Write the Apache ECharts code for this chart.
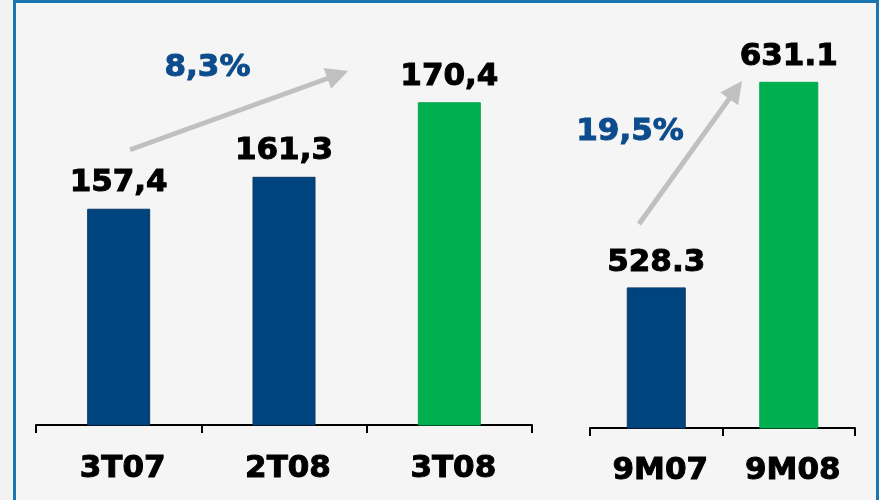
<!DOCTYPE html>
<html>
<head>
<meta charset="utf-8">
<script src="https://cdn.jsdelivr.net/npm/echarts@6/dist/echarts.min.js"></script>
<style>html,body{margin:0;padding:0;background:#f3f3f3;}#c{width:879px;height:500px;}</style>
</head>
<body>
<div id="c"></div>
<script>
// Quarterly group
var quarterCats = ['3T07', '2T08', '3T08'];
var quarterValues = [157.4, 161.3, 170.4];
var quarterLabels = ['157,4', '161,3', '170,4'];
// Nine-month group
var ytdCats = ['9M07', '9M08'];
var ytdValues = [528.3, 631.1];
var ytdLabels = ['528.3', '631.1'];
// Growth annotations
var quarterGrowth = '8,3%';
var ytdGrowth = '19,5%';
var quarterArrow = [[0.069, 164.6], [1.325, 173.76]];
var ytdArrow = [[-0.13, 560], [0.599, 627.05]];
var quarterGrowthPos = [0.537, 174.6];
var ytdGrowthPos = [-0.198, 606];

var NAVY = '#00447f', GREEN = '#00b050', GREY = '#c0c0c0', PCT = '#0d4c8c';
var FONT = 'DejaVu Sans';

function barData(vals) {
  return vals.map(function (v, i) {
    var last = i === vals.length - 1;
    return { value: v, itemStyle: { color: last ? GREEN : NAVY, borderColor: last ? '#00a84c' : '#0a3866', borderWidth: 1 } };
  });
}
function catAxis(grid, cats, margin) {
  return {
    type: 'category', gridIndex: grid, data: cats,
    axisLine: { lineStyle: { color: '#000', width: 2 } },
    axisTick: { show: true, length: 8, lineStyle: { color: '#000', width: 2 } },
    axisLabel: { color: '#000', fontFamily: FONT, fontWeight: 'bold', fontSize: 31, margin: margin,
      textBorderColor: '#000', textBorderWidth: 1, padding: [0, 0, 0, 8] }
  };
}
function annot(xi, yi, arrow, pos, txt) {
  return {
    type: 'scatter', xAxisIndex: xi, yAxisIndex: yi, data: [], silent: true,
    markLine: {
      silent: true, animation: false, symbol: ['none', 'triangle'], symbolSize: 22,
      label: { show: false },
      lineStyle: { color: GREY, width: 5, type: 'solid' },
      data: [[{ coord: arrow[0] }, { coord: arrow[1] }]]
    },
    markPoint: {
      silent: true, animation: false, symbol: 'circle', symbolSize: 1,
      itemStyle: { color: 'rgba(0,0,0,0)' },
      label: { show: true, position: 'inside', formatter: txt, color: PCT, fontFamily: FONT, fontWeight: 'bold', fontSize: 31,
        textBorderColor: PCT, textBorderWidth: 1 },
      data: [{ coord: pos }]
    }
  };
}
function valLabel(labels, dist) {
  return { show: true, position: 'top', distance: dist, color: '#000', fontFamily: FONT, fontWeight: 'bold', fontSize: 31,
    textBorderColor: '#000', textBorderWidth: 1,
    formatter: function (p) { return labels[p.dataIndex]; } };
}

var chart = echarts.init(document.getElementById('c'));
chart.setOption({
  animation: false,
  backgroundColor: '#f5f5f5',
  grid: [
    { left: 36, right: 347, top: 40, bottom: 75 },
    { left: 590, right: 24, top: 40, bottom: 72 }
  ],
  xAxis: [
    catAxis(0, quarterCats, 28),
    catAxis(1, ytdCats, 27),
    { type: 'value', gridIndex: 0, min: -0.5, max: quarterCats.length - 0.5, show: false },
    { type: 'value', gridIndex: 1, min: -0.5, max: ytdCats.length - 0.5, show: false }
  ],
  yAxis: [
    { type: 'value', gridIndex: 0, min: 131, max: 178, show: false },
    { type: 'value', gridIndex: 1, min: 458, max: 652, show: false }
  ],
  series: [
    { type: 'bar', xAxisIndex: 0, yAxisIndex: 0, barWidth: 63, data: barData(quarterValues), label: valLabel(quarterLabels, 10) },
    { type: 'bar', xAxisIndex: 1, yAxisIndex: 1, barWidth: 59, data: barData(ytdValues), label: valLabel(ytdLabels, 9) },
    annot(2, 0, quarterArrow, quarterGrowthPos, quarterGrowth),
    annot(3, 1, ytdArrow, ytdGrowthPos, ytdGrowth)
  ],
  graphic: [
    { type: 'rect', left: 0, top: 0, shape: { width: 13, height: 500 }, style: { fill: '#f2f2f2' }, silent: true },
    { type: 'rect', left: 13, top: 0, shape: { width: 3, height: 500 }, style: { fill: '#1b75b1' }, silent: true },
    { type: 'rect', left: 13, top: 0, shape: { width: 866, height: 3 }, style: { fill: '#1b75b1' }, silent: true },
    { type: 'rect', left: 876, top: 0, shape: { width: 3, height: 500 }, style: { fill: '#1b75b1' }, silent: true }
  ]
});
</script>
</body>
</html>
